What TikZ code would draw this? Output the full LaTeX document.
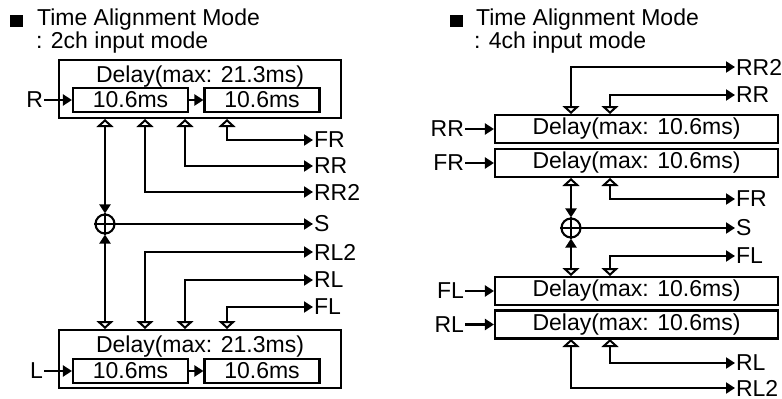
\documentclass[tikz,border=0pt]{standalone}
\usepackage{fontspec}
\setmainfont{Liberation Sans}
\usetikzlibrary{arrows.meta}

\begin{document}
\begin{tikzpicture}[x=1pt, y=-1pt, line width=2.1pt,
  every node/.style={font=\fontsize{23}{27}\selectfont, inner sep=0pt},
  bullet/.style={fill, rectangle, minimum size=12.5pt},
  dbox/.style={draw, rectangle, minimum height=24pt, minimum width=115pt},
  obox/.style={draw, rectangle, minimum height=58pt, minimum width=282pt},
  cbox/.style={draw, rectangle, minimum height=28pt, minimum width=283pt},
  sumnode/.style={draw, circle, minimum size=19pt},
  feed/.style={-{Triangle[length=9pt, width=11pt]}},
  tap/.style={{Triangle[open, length=8pt, width=17pt]}-{Triangle[length=9pt, width=11pt]}},
  sumlink/.style={{Triangle[length=9pt, width=11pt]}-{Triangle[open, length=8pt, width=17pt]}}]
  \useasboundingbox (0,0) rectangle (782,399);

  % 2ch input mode
  \node[bullet] (sqa) at (16.5,21) {};
  \node[anchor=base west] (ttla) at (36,25) {Time Alignment Mode};
  \node[anchor=base west] (suba) at (35,48) {: 2ch input mode};

  \node[obox] (ua) at (200,89) {};
  \node[anchor=base] (uat) at (200,82) {Delay(max: 21.3ms)};
  \node[dbox] (ua1) at (130.5,100) {10.6ms};
  \node[dbox] (ua2) at (262,100) {10.6ms};
  \node[anchor=east] (rin) at (44,100) {R};
  \draw[feed] (rin) -- (ua1);
  \draw[feed] (ua1) -- (ua2);

  \node[obox] (la) at (200,359) {};
  \node[anchor=base] (lat) at (200,352) {Delay(max: 21.3ms)};
  \node[dbox] (la1) at (130.5,371) {10.6ms};
  \node[dbox] (la2) at (262,371) {10.6ms};
  \node[anchor=east] (lin) at (44,371) {L};
  \draw[feed] (lin) -- (la1);
  \draw[feed] (la1) -- (la2);

  \node[sumnode] (sa) at (105,224) {};
  \draw (sa.north) -- (sa.south) (sa.west) -- (sa.east);

  \coordinate (ta1) at (105,119);
  \coordinate (ta2) at (145,119);
  \coordinate (ta3) at (185,119);
  \coordinate (ta4) at (227,119);
  \coordinate (tb1) at (105,329);
  \coordinate (tb2) at (145,329);
  \coordinate (tb3) at (185,329);
  \coordinate (tb4) at (227,329);

  \node[anchor=west] (fra) at (313,140) {FR};
  \node[anchor=west] (rra) at (313,166) {RR};
  \node[anchor=west] (rr2a) at (313,192) {RR2};
  \node[anchor=west] (sao) at (313,224) {S};
  \node[anchor=west] (rl2a) at (313,252) {RL2};
  \node[anchor=west] (rla) at (313,280) {RL};
  \node[anchor=west] (fla) at (313,307) {FL};

  \draw[sumlink] (sa) -- (ta1);
  \draw[sumlink] (sa) -- (tb1);
  \draw[feed] (sa) -- (sao.west);
  \draw[tap] (ta4) |- (fra.west);
  \draw[tap] (ta3) |- (rra.west);
  \draw[tap] (ta2) |- (rr2a.west);
  \draw[tap] (tb2) |- (rl2a.west);
  \draw[tap] (tb3) |- (rla.west);
  \draw[tap] (tb4) |- (fla.west);

  % 4ch input mode
  \node[bullet] (sqb) at (456.5,21) {};
  \node[anchor=base west] (ttlb) at (475,25) {Time Alignment Mode};
  \node[anchor=base west] (subb) at (473,48) {: 4ch input mode};

  \node[cbox] (b1) at (636.5,129) {Delay(max: 10.6ms)};
  \node[cbox] (b2) at (636.5,163) {Delay(max: 10.6ms)};
  \node[cbox] (b3) at (636.5,291) {Delay(max: 10.6ms)};
  \node[cbox] (b4) at (636.5,324.5) {Delay(max: 10.6ms)};
  \node[anchor=east] (rrin) at (465,129) {RR};
  \node[anchor=east] (frin) at (465,163) {FR};
  \node[anchor=east] (flin) at (465,291) {FL};
  \node[anchor=east] (rlin) at (465,324.5) {RL};
  \draw[feed] (rrin) -- (b1);
  \draw[feed] (frin) -- (b2);
  \draw[feed] (flin) -- (b3);
  \draw[feed] (rlin) -- (b4);

  \node[sumnode] (sb) at (571,228) {};
  \draw (sb.north) -- (sb.south) (sb.west) -- (sb.east);

  \coordinate (tc1) at (571,114);
  \coordinate (tc2) at (610,114);
  \coordinate (td1) at (571,178);
  \coordinate (td2) at (610,178);
  \coordinate (te1) at (571,276);
  \coordinate (te2) at (610,276);
  \coordinate (tf1) at (571,339);
  \coordinate (tf2) at (610,339);

  \node[anchor=west] (rr2b) at (735,67) {RR2};
  \node[anchor=west] (rrb) at (735,95) {RR};
  \node[anchor=west] (frb) at (735,199) {FR};
  \node[anchor=west] (sbo) at (735,228) {S};
  \node[anchor=west] (flb) at (735,256) {FL};
  \node[anchor=west] (rlb) at (735,363) {RL};
  \node[anchor=west] (rl2b) at (735,388) {RL2};

  \draw[tap] (tc1) |- (rr2b.west);
  \draw[tap] (tc2) |- (rrb.west);
  \draw[sumlink] (sb) -- (td1);
  \draw[tap] (td2) |- (frb.west);
  \draw[feed] (sb) -- (sbo.west);
  \draw[sumlink] (sb) -- (te1);
  \draw[tap] (te2) |- (flb.west);
  \draw[tap] (tf2) |- (rlb.west);
  \draw[tap] (tf1) |- (rl2b.west);
\end{tikzpicture}
\end{document}
